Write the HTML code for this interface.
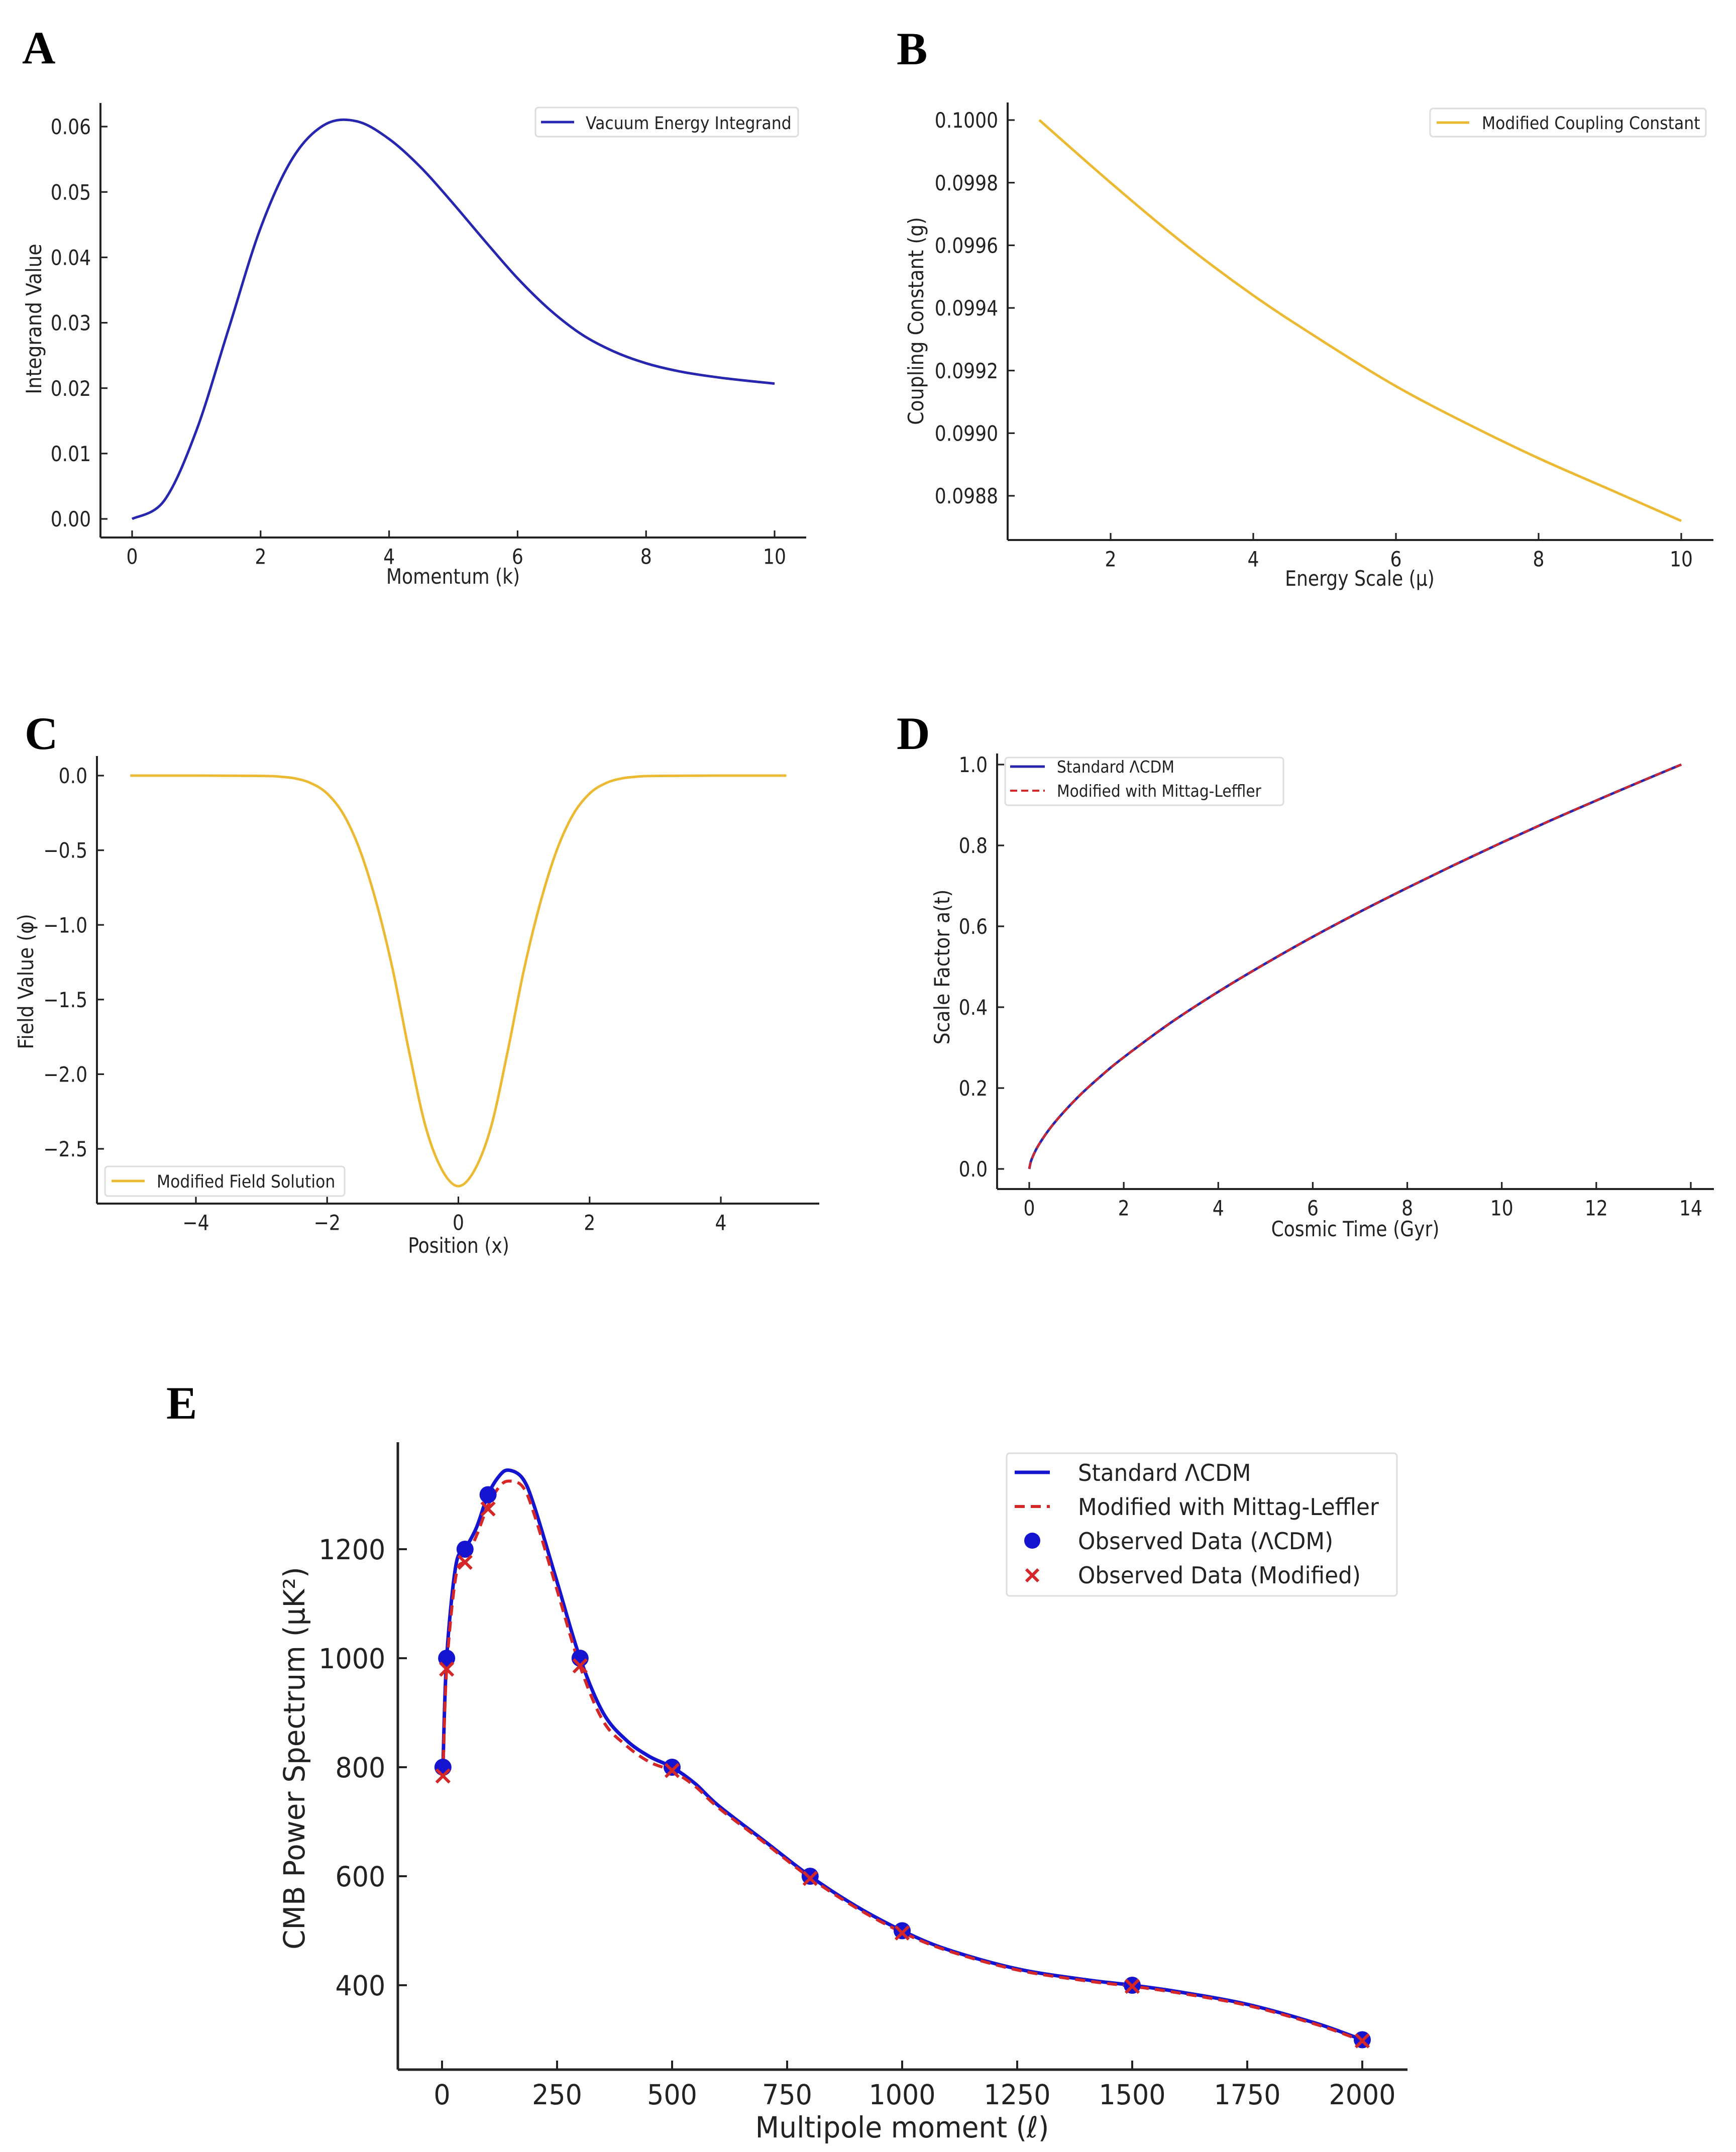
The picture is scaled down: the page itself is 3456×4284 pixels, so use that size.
<!DOCTYPE html>
<html><head><meta charset="utf-8">
<style>
html,body{margin:0;padding:0;background:#fff;}
svg{display:block;}
text{font-family:"DejaVu Sans","Liberation Sans",sans-serif;fill:#222;}
.lbl{font-family:"Liberation Serif",serif;font-weight:bold;fill:#000;}
</style></head>
<body>
<svg id="fig" width="3456" height="4284" viewBox="0 0 3456 4284" xmlns="http://www.w3.org/2000/svg">
<rect width="3456" height="4284" fill="#fff"/>
<text class="lbl" x="44" y="126" font-size="92">A</text>
<text class="lbl" x="1785" y="128" font-size="92">B</text>
<text class="lbl" x="49" y="1491" font-size="92">C</text>
<text class="lbl" x="1785" y="1491" font-size="92">D</text>
<text class="lbl" x="331" y="2824" font-size="92">E</text>
</svg>
<script>
// ---------- Panel A data ----------
const aK = [0,0.5,1,1.5,2,2.5,3,3.5,4,4.5,5,5.5,6,6.5,7,7.5,8,8.5,9,9.5,10];
const aVal = [0,0.0028,0.0135,0.029,0.0445,0.0552,0.0603,0.0608,0.0581,0.0537,0.0482,0.0424,0.0368,0.032,0.0282,0.0256,0.0238,0.0226,0.0218,0.0212,0.0207];
const aXTicks = [0,2,4,6,8,10];
const aYTicks = [0,0.01,0.02,0.03,0.04,0.05,0.06];
const aYTickLabels = ["0.00","0.01","0.02","0.03","0.04","0.05","0.06"];
// ---------- Panel B data ----------
const bMu = [1,2,3,4,5,6,7,8,9,10];
const bG = [0.1000,0.09980,0.09961,0.09944,0.09929,0.09915,0.09903,0.09892,0.09882,0.09872];
const bXTicks = [2,4,6,8,10];
const bYTicks = [0.0988,0.0990,0.0992,0.0994,0.0996,0.0998,0.1000];
const bYTickLabels = ["0.0988","0.0990","0.0992","0.0994","0.0996","0.0998","0.1000"];
// ---------- Panel C data ----------
const cX = [-5,-4,-3,-2.75,-2.5,-2.25,-2,-1.75,-1.5,-1.25,-1,-0.75,-0.5,-0.25,0,0.25,0.5,0.75,1,1.25,1.5,1.75,2,2.25,2.5,2.75,3,4,5];
const cPhi = [0,0,-0.002,-0.006,-0.018,-0.05,-0.12,-0.26,-0.5,-0.85,-1.3,-1.85,-2.35,-2.64,-2.75,-2.64,-2.35,-1.85,-1.3,-0.85,-0.5,-0.26,-0.12,-0.05,-0.018,-0.006,-0.002,0,0];
const cXTicks = [-4,-2,0,2,4];
const cYTicks = [0,-0.5,-1,-1.5,-2,-2.5];
const cYTickLabels = ["0.0","\u22120.5","\u22121.0","\u22121.5","\u22122.0","\u22122.5"];
// ---------- Panel D data ----------
const dT = [0,0.05,0.2,0.5,1,1.5,2,3,4,5,6,7,8,9,10,11,12,13,13.8];
const dStd = [0,0.0236,0.0594,0.1095,0.174,0.228,0.276,0.362,0.438,0.508,0.574,0.636,0.695,0.752,0.807,0.860,0.911,0.961,1.0];
const dMod = [0,0.0236,0.0594,0.1095,0.174,0.228,0.276,0.362,0.438,0.508,0.574,0.636,0.695,0.752,0.807,0.860,0.911,0.961,1.0];
const dXTicks = [0,2,4,6,8,10,12,14];
const dYTicks = [0,0.2,0.4,0.6,0.8,1.0];
const dYTickLabels = ["0.0","0.2","0.4","0.6","0.8","1.0"];
// ---------- Panel E data ----------
const eL = [2,10,30,50,75,100,125,145,175,200,250,300,350,400,450,500,550,600,700,800,900,1000,1100,1250,1400,1500,1600,1750,1900,2000];
const eStd = [800,1000,1170,1200,1240,1300,1335,1345,1330,1280,1140,1000,900,850,820,800,770,730,665,600,545,500,465,430,410,400,388,365,330,300];
const eMod = [784,980,1150,1180,1225,1280,1315,1325,1315,1265,1125,985,885,840,810,793,765,726,662,597,542,497,463,428,408,398,386,363,328,298];
const eObsL = [2,10,50,100,300,500,800,1000,1500,2000];
const eObsStd = [800,1000,1200,1300,1000,800,600,500,400,300];
const eObsMod = [784,980,1176,1274,986,794,596,496,398,298];
const eXTicks = [0,250,500,750,1000,1250,1500,1750,2000];
const eYTicks = [400,600,800,1000,1200];

const NS = "http://www.w3.org/2000/svg";
const fig = document.getElementById('fig');
function el(tag, attrs, parent){
  const e = document.createElementNS(NS, tag);
  for (const k in attrs) e.setAttribute(k, attrs[k]);
  (parent||fig).appendChild(e);
  return e;
}
function txt(x, y, s, size, anchor, name, rot, sq){
  const k = sq || 1;
  const t = el('text', {x:0, y:0, 'font-size':size, 'text-anchor':anchor||'middle'});
  
  
  t.setAttribute('transform', 'translate(' + x + ' ' + y + ')' + (rot ? ' rotate(' + rot + ')' : '') + ' scale(' + k + ' 1)');
  t.textContent = s;
  return t;
}
function lin(d0, d1, p0, p1){ return v => p0 + (v - d0) * (p1 - p0) / (d1 - d0); }
function smoothPath(xs, ys, sx, sy){
  const P = xs.map((x,i)=>[sx(x), sy(ys[i])]);
  let d = 'M' + P[0][0].toFixed(1) + ',' + P[0][1].toFixed(1);
  for (let i=0;i<P.length-1;i++){
    const p0 = P[Math.max(0,i-1)], p1 = P[i], p2 = P[i+1], p3 = P[Math.min(P.length-1,i+2)];
    const c1 = [p1[0]+(p2[0]-p0[0])/6, p1[1]+(p2[1]-p0[1])/6];
    const c2 = [p2[0]-(p3[0]-p1[0])/6, p2[1]-(p3[1]-p1[1])/6];
    d += ' C' + c1[0].toFixed(1)+','+c1[1].toFixed(1)+' '+c2[0].toFixed(1)+','+c2[1].toFixed(1)+' '+p2[0].toFixed(1)+','+p2[1].toFixed(1);
  }
  return d;
}
function axes(prefix, L, R, T, B, sx, sy, xt, xtl, yt, ytl, fs, tickLen, sw, sq){
  const sp1 = el('line', {x1:L, y1:T, x2:L, y2:B, stroke:'#222', 'stroke-width':sw});
  
  
  const sp2 = el('line', {x1:L, y1:B, x2:R, y2:B, stroke:'#222', 'stroke-width':sw});
  
  
  xt.forEach((v,i)=>{
    const X = sx(v);
    const tk = el('line', {x1:X, y1:B, x2:X, y2:B-tickLen, stroke:'#222', 'stroke-width':sw*0.8});
    
    
    txt(X, B + fs*1.25, xtl[i], fs, 'middle', prefix + '-x-tick-label', 0, sq);
  });
  yt.forEach((v,i)=>{
    const Y = sy(v);
    const tk = el('line', {x1:L, y1:Y, x2:L+tickLen, y2:Y, stroke:'#222', 'stroke-width':sw*0.8});
    
    
    txt(L - fs*0.45, Y + fs*0.36, ytl[i], fs, 'end', prefix + '-y-tick-label', 0, sq);
  });
}
function legendBox(x, y, w, h, name){
  const r = el('rect', {x:x, y:y, width:w, height:h, fill:'#fff', stroke:'#ddd', 'stroke-width':3, rx:6});
  
  
}
function legendLine(x1, x2, y, color, dash, sw){
  const l = el('line', {x1:x1, y1:y, x2:x2, y2:y, stroke:color, 'stroke-width':sw});
  if (dash) l.setAttribute('stroke-dasharray', dash);
  
  
}
const FS = 42, SQ = 0.86, SQL = 0.9, SQR = 0.9;
const BLUE = '#2626b0', GOLD = '#ecba32', RED = '#d62728', EBLUE = '#1414d0';

// ---- Panel A ----
{
  const sx = lin(0, 10, 263, 1542), sy = lin(0, 0.06, 1033, 252);
  axes('panel-a', 200, 1605, 205, 1070, sx, sy, aXTicks, aXTicks.map(String), aYTicks, aYTickLabels, FS, 14, 4, SQ);
  const p = el('path', {d:smoothPath(aK, aVal, sx, sy), fill:'none', stroke:BLUE, 'stroke-width':5});
  
  
  txt(902, 1162, 'Momentum (k)', FS, 'middle', 'panel-a-x-axis-title', 0, SQ);
  txt(82, 635, 'Integrand Value', FS, 'middle', 'panel-a-y-axis-title', -90, SQR);
  legendBox(1066, 214, 523, 58, 'panel-a-legend');
  legendLine(1077, 1143, 243, BLUE, null, 5);
  txt(1166, 257, 'Vacuum Energy Integrand', 35, 'start', 'legend-label', 0, SQL);
}
// ---- Panel B ----
{
  const sx = lin(2, 10, 2211, 3347), sy = lin(0.1, 0.0988, 239, 987);
  axes('panel-b', 2006, 3411, 204, 1075, sx, sy, bXTicks, bXTicks.map(String), bYTicks, bYTickLabels, FS, 14, 4, SQ);
  const p = el('path', {d:smoothPath(bMu, bG, sx, sy), fill:'none', stroke:GOLD, 'stroke-width':5});
  
  
  txt(2707, 1166, 'Energy Scale (\u03bc)', FS, 'middle', 'panel-b-x-axis-title', 0, SQ);
  txt(1838, 639, 'Coupling Constant (g)', FS, 'middle', 'panel-b-y-axis-title', -90, SQR);
  legendBox(2847, 216, 549, 56, 'panel-b-legend');
  legendLine(2860, 2925, 244, GOLD, null, 5);
  txt(2950, 257, 'Modified Coupling Constant', 35, 'start', 'legend-label', 0, SQL);
}
// ---- Panel C ----
{
  const sx = lin(-4, 4, 390, 1435), sy = lin(0, -2.5, 1544, 2287);
  axes('panel-c', 193, 1631, 1505, 2396, sx, sy, cXTicks, ["\u22124","\u22122","0","2","4"], cYTicks, cYTickLabels, FS, 14, 4, SQ);
  const p = el('path', {d:smoothPath(cX, cPhi, sx, sy), fill:'none', stroke:GOLD, 'stroke-width':5});
  
  
  txt(913, 2494, 'Position (x)', FS, 'middle', 'panel-c-x-axis-title', 0, SQ);
  txt(66, 1954, 'Field Value (\u03c6)', FS, 'middle', 'panel-c-y-axis-title', -90, SQR);
  legendBox(209, 2322, 477, 59, 'panel-c-legend');
  legendLine(222, 288, 2351, GOLD, null, 5);
  txt(312, 2364, 'Modified Field Solution', 35, 'start', 'legend-label', 0, SQL);
}
// ---- Panel D ----
{
  const sx = lin(0, 14, 2049, 3366), sy = lin(0, 1, 2327, 1522);
  axes('panel-d', 1985, 3412, 1500, 2367, sx, sy, dXTicks, dXTicks.map(String), dYTicks, dYTickLabels, FS, 14, 4, SQ);
  const p1 = el('path', {d:smoothPath(dT, dStd, sx, sy), fill:'none', stroke:BLUE, 'stroke-width':5});
  
  
  const p2 = el('path', {d:smoothPath(dT, dMod, sx, sy), fill:'none', stroke:RED, 'stroke-width':4, 'stroke-dasharray':'14 8'});
  
  
  txt(2698, 2461, 'Cosmic Time (Gyr)', FS, 'middle', 'panel-d-x-axis-title', 0, SQ);
  txt(1890, 1925, 'Scale Factor a(t)', FS, 'middle', 'panel-d-y-axis-title', -90, SQR);
  legendBox(2001, 1508, 554, 95, 'panel-d-legend');
  legendLine(2011, 2080, 1526, BLUE, null, 5);
  txt(2104, 1538, 'Standard \u039bCDM', 33, 'start', 'legend-label', 0, SQL);
  legendLine(2011, 2080, 1574, RED, '14 8', 4);
  txt(2104, 1586, 'Modified with Mittag-Leffler', 33, 'start', 'legend-label', 0, SQL);
}
// ---- Panel E ----
{
  const sx = lin(0, 2000, 880, 2712), sy = lin(400, 1200, 3952, 3084);
  axes('panel-e', 792, 2802, 2871, 4120, sx, sy, eXTicks, eXTicks.map(String), eYTicks, eYTicks.map(String), 55, 18, 5, 0.95);
  const p1 = el('path', {d:smoothPath(eL, eStd, sx, sy), fill:'none', stroke:EBLUE, 'stroke-width':7});
  
  
  const p2 = el('path', {d:smoothPath(eL, eMod, sx, sy), fill:'none', stroke:RED, 'stroke-width':6, 'stroke-dasharray':'20 12'});
  
  
  eObsL.forEach((l,i)=>{
    const c = el('circle', {cx:sx(l), cy:sy(eObsStd[i]), r:17, fill:EBLUE});
    
    
  });
  eObsL.forEach((l,i)=>{
    const X = sx(l), Y = sy(eObsMod[i]), s = 13;
    const m = el('path', {d:'M'+(X-s)+','+(Y-s)+' L'+(X+s)+','+(Y+s)+' M'+(X-s)+','+(Y+s)+' L'+(X+s)+','+(Y-s), stroke:RED, 'stroke-width':6, fill:'none'});
    
    
  });
  txt(1796, 4255, 'Multipole moment (\u2113)', 58, 'middle', 'panel-e-x-axis-title', 0, 0.95);
  txt(606, 3500, 'CMB Power Spectrum (\u03bcK\u00b2)', 58, 'middle', 'panel-e-y-axis-title', -90, 0.97);
  legendBox(2004, 2893, 777, 284, 'panel-e-legend');
  legendLine(2020, 2090, 2931, EBLUE, null, 7);
  txt(2146, 2948, 'Standard \u039bCDM', 46, 'start', 'legend-label', 0, 0.95);
  legendLine(2020, 2090, 2999, RED, '20 12', 6);
  txt(2146, 3016, 'Modified with Mittag-Leffler', 46, 'start', 'legend-label', 0, 0.95);
  const lc = el('circle', {cx:2055, cy:3067, r:16, fill:EBLUE});
  
  
  txt(2146, 3084, 'Observed Data (\u039bCDM)', 46, 'start', 'legend-label', 0, 0.95);
  const lx = el('path', {d:'M2043,3124 L2067,3148 M2043,3148 L2067,3124', stroke:RED, 'stroke-width':6});
  
  
  txt(2146, 3152, 'Observed Data (Modified)', 46, 'start', 'legend-label', 0, 0.95);
}
</script>
</body></html>
